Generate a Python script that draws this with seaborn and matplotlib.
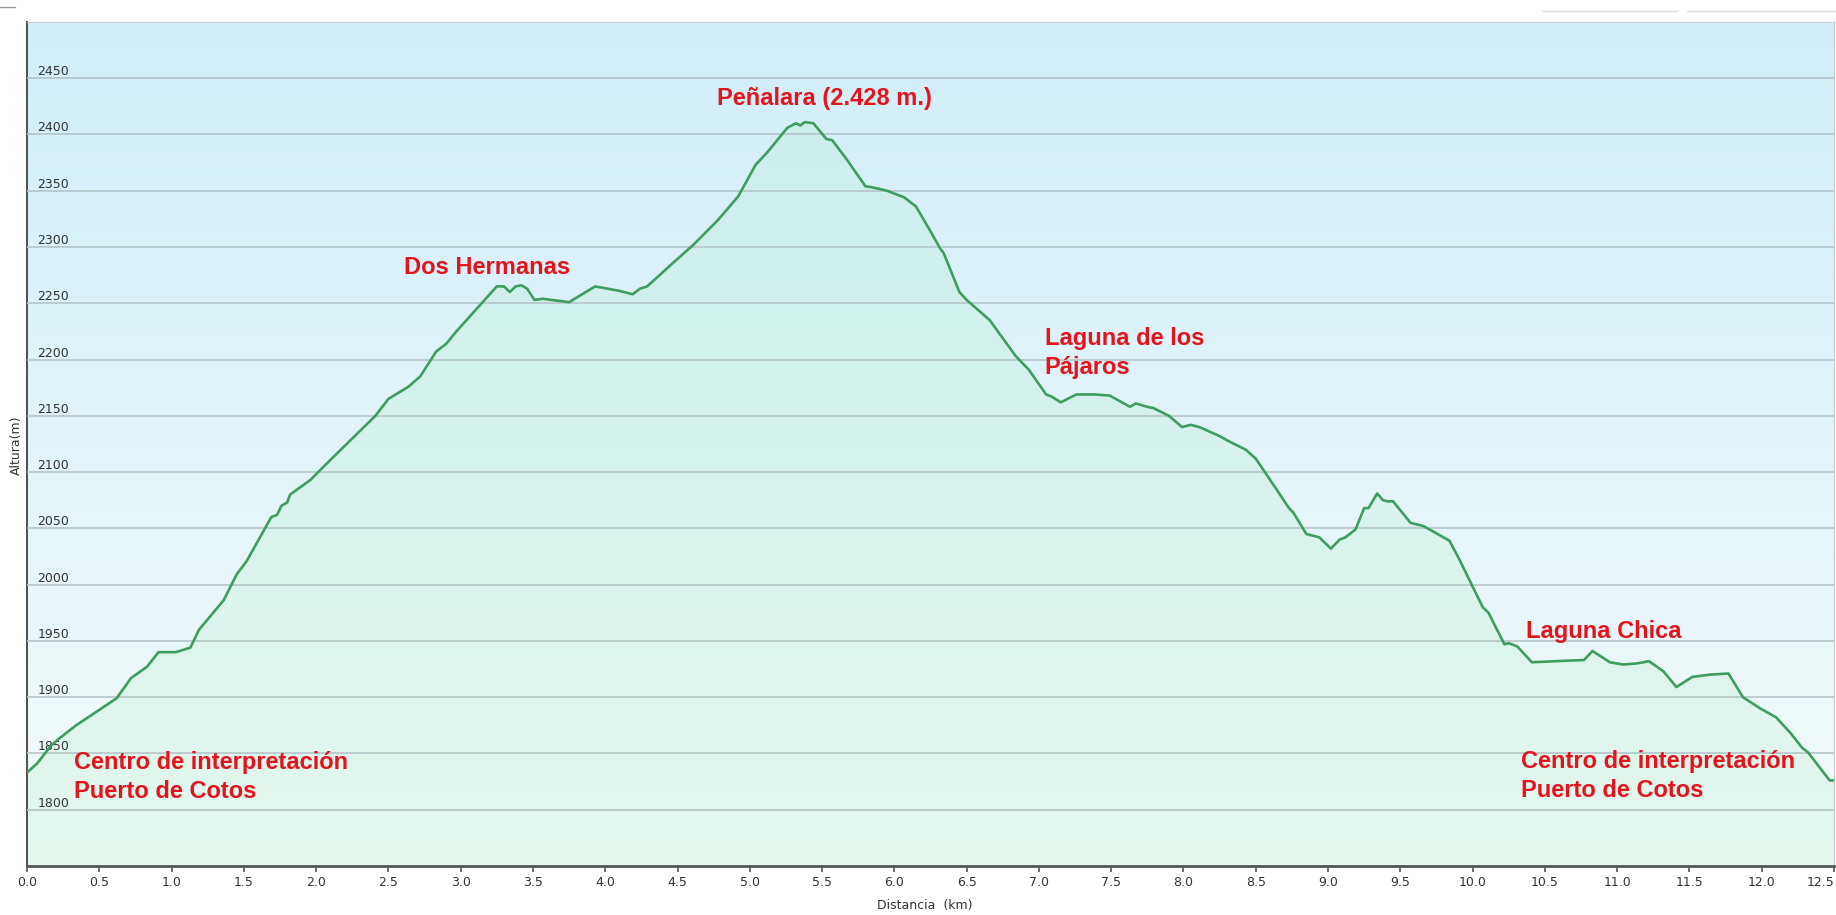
import numpy as np
import matplotlib
matplotlib.use("Agg")
import matplotlib.pyplot as plt
from matplotlib.colors import LinearSegmentedColormap
from matplotlib.lines import Line2D
import seaborn as sns

# Perfil de la ruta
distancia_km = [0.00, 0.07, 0.16, 0.22, 0.34, 0.62, 0.72, 0.83, 0.91, 1.03,
                1.13, 1.19, 1.36, 1.45, 1.52, 1.59, 1.69, 1.73, 1.76, 1.80,
                1.82, 1.96, 2.10, 2.41, 2.50, 2.64, 2.72, 2.83, 2.90, 2.97,
                3.25, 3.30, 3.34, 3.38, 3.42, 3.46, 3.51, 3.57, 3.75, 3.93,
                4.10, 4.19, 4.24, 4.29, 4.47, 4.61, 4.78, 4.92, 5.04, 5.12,
                5.26, 5.32, 5.35, 5.38, 5.44, 5.53, 5.57, 5.67, 5.80, 5.85,
                5.95, 6.07, 6.15, 6.25, 6.32, 6.34, 6.45, 6.50, 6.66, 6.84,
                6.93, 7.05, 7.09, 7.15, 7.26, 7.38, 7.49, 7.56, 7.63, 7.67,
                7.75, 7.79, 7.90, 7.99, 8.05, 8.11, 8.18, 8.25, 8.32, 8.43,
                8.50, 8.60, 8.73, 8.76, 8.85, 8.94, 9.02, 9.08, 9.12, 9.19,
                9.25, 9.28, 9.34, 9.38, 9.41, 9.45, 9.57, 9.66, 9.73, 9.84,
                9.91, 10.07, 10.11, 10.22, 10.25, 10.31, 10.41, 10.58, 10.77, 10.83,
                10.95, 11.04, 11.14, 11.22, 11.32, 11.41, 11.52, 11.64, 11.77, 11.87,
                11.99, 12.10, 12.20, 12.28, 12.32, 12.47, 12.51]
altura_m = [1833, 1841, 1856, 1863, 1875, 1899, 1917, 1927, 1940, 1940,
            1944, 1960, 1986, 2009, 2021, 2037, 2060, 2062, 2070, 2073,
            2080, 2093, 2111, 2150, 2165, 2176, 2185, 2207, 2214, 2225,
            2265, 2265, 2260, 2265, 2266, 2263, 2253, 2254, 2251, 2265,
            2261, 2258, 2263, 2265, 2286, 2302, 2324, 2345, 2373, 2384,
            2406, 2410, 2408, 2411, 2410, 2396, 2395, 2378, 2354, 2353,
            2350, 2344, 2336, 2314, 2298, 2295, 2260, 2253, 2235, 2203,
            2191, 2169, 2167, 2162, 2169, 2169, 2168, 2163, 2158, 2161,
            2158, 2157, 2150, 2140, 2142, 2140, 2136, 2132, 2127, 2120,
            2112, 2093, 2068, 2064, 2045, 2042, 2032, 2040, 2042, 2049,
            2068, 2068, 2081, 2075, 2074, 2074, 2055, 2052, 2047, 2039,
            2022, 1980, 1975, 1947, 1948, 1945, 1931, 1932, 1933, 1941,
            1931, 1929, 1930, 1932, 1923, 1909, 1918, 1920, 1921, 1900,
            1890, 1882, 1868, 1855, 1851, 1826, 1826]

ticks_km = [0.0, 0.5, 1.0, 1.5, 2.0, 2.5, 3.0, 3.5, 4.0, 4.5, 5.0, 5.5, 6.0,
            6.5, 7.0, 7.5, 8.0, 8.5, 9.0, 9.5, 10.0, 10.5, 11.0, 11.5, 12.0, 12.5]
ticks_altura = [1800, 1850, 1900, 1950, 2000, 2050, 2100, 2150, 2200,
                2250, 2300, 2350, 2400, 2450]

# Nombres de los puntos de interes
etiquetas = ["Peñalara (2.428 m.)", "Dos Hermanas", "Laguna de los\nPájaros",
             "Laguna Chica", "Centro de interpretación\nPuerto de Cotos",
             "Centro de interpretación\nPuerto de Cotos"]
etiquetas_x = [4.77, 2.61, 7.04, 10.37, 0.325, 10.335]
etiquetas_y = [2432, 2282, 2206, 1958, 1829, 1830]

rojo = "#e3141c"
verde = "#3d9e5e"

sns.set_theme(style="white")
plt.rcParams["font.family"] = ["DejaVu Sans"]

fig, ax = plt.subplots(figsize=(18.36, 9.15), dpi=100)
fig.subplots_adjust(left=0.0147, right=0.9989, bottom=0.0536, top=0.976)

# fondo degradado azul -> casi blanco
cmap_fondo = LinearSegmentedColormap.from_list(
    "fondo", ["#f3fbfa", "#e8f6f9", "#dcf2fa", "#d1eef8"])
grad = np.linspace(0, 1, 256).reshape(-1, 1)
ax.imshow(grad, cmap=cmap_fondo, aspect="auto", origin="lower",
          extent=[0, 12.5, 1750, 2500], zorder=0)

ax.fill_between(distancia_km, altura_m, 1750, color="#aeeec4", alpha=0.22,
                lw=0, zorder=1)
sns.lineplot(x=distancia_km, y=altura_m, ax=ax, color=verde, lw=1.9,
             sort=False, zorder=3)

ax.set_xlim(0, 12.5)
ax.set_ylim(1750, 2500)
ax.set_xticks(ticks_km)
ax.set_xticklabels([f"{t:.1f}" for t in ticks_km], fontsize=9, color="#333333")
ax.get_xticklabels()[-1].set_ha("right")
ax.set_yticks(ticks_altura)
ax.set_yticklabels([str(t) for t in ticks_altura], fontsize=9, color="#333333")
ax.tick_params(axis="y", direction="in", length=0, pad=-7.5)
ax.tick_params(axis="x", direction="out", length=4, width=1.2, color="#555555",
               pad=3, bottom=True)
plt.setp(ax.get_yticklabels(), ha="left", va="bottom")

ax.yaxis.grid(True, color="#b6c5c8", lw=1.2, zorder=2)
ax.xaxis.grid(False)
ax.set_axisbelow(False)

ax.spines["bottom"].set_color("#555555")
ax.spines["bottom"].set_linewidth(2)
ax.spines["left"].set_color("#555555")
ax.spines["left"].set_linewidth(1.5)
for s in ["top", "right"]:
    ax.spines[s].set_color("#c3cbce")
    ax.spines[s].set_linewidth(0.8)

ax.set_xlabel("")
ax.set_ylabel("")
fig.text(925 / 1836, 1 - 905 / 915, "Distancia  (km)", ha="center",
         va="center", fontsize=9, color="#333333")
fig.text(16 / 1836, 1 - 445 / 915, "Altura(m)", ha="center", va="center",
         rotation=90, fontsize=9, color="#333333")

for txt, x, y in zip(etiquetas, etiquetas_x, etiquetas_y):
    ax.text(x, y, txt, ha="left", va="center", color=rojo, fontsize=17,
            fontweight="bold", family=["Liberation Sans", "DejaVu Sans"],
            linespacing=1.3, zorder=4)

# restos de la interfaz en la parte superior
fig.add_artist(Line2D([0, 15 / 1836], [1 - 7 / 915] * 2, color="#9a9a9a",
                      lw=1, transform=fig.transFigure))
for x0, x1 in [(1542, 1677), (1687, 1836)]:
    fig.add_artist(Line2D([x0 / 1836, x1 / 1836], [1 - 11 / 915] * 2,
                          color="#d8dcdc", lw=1, transform=fig.transFigure))

fig.savefig("out.png", dpi=100)
